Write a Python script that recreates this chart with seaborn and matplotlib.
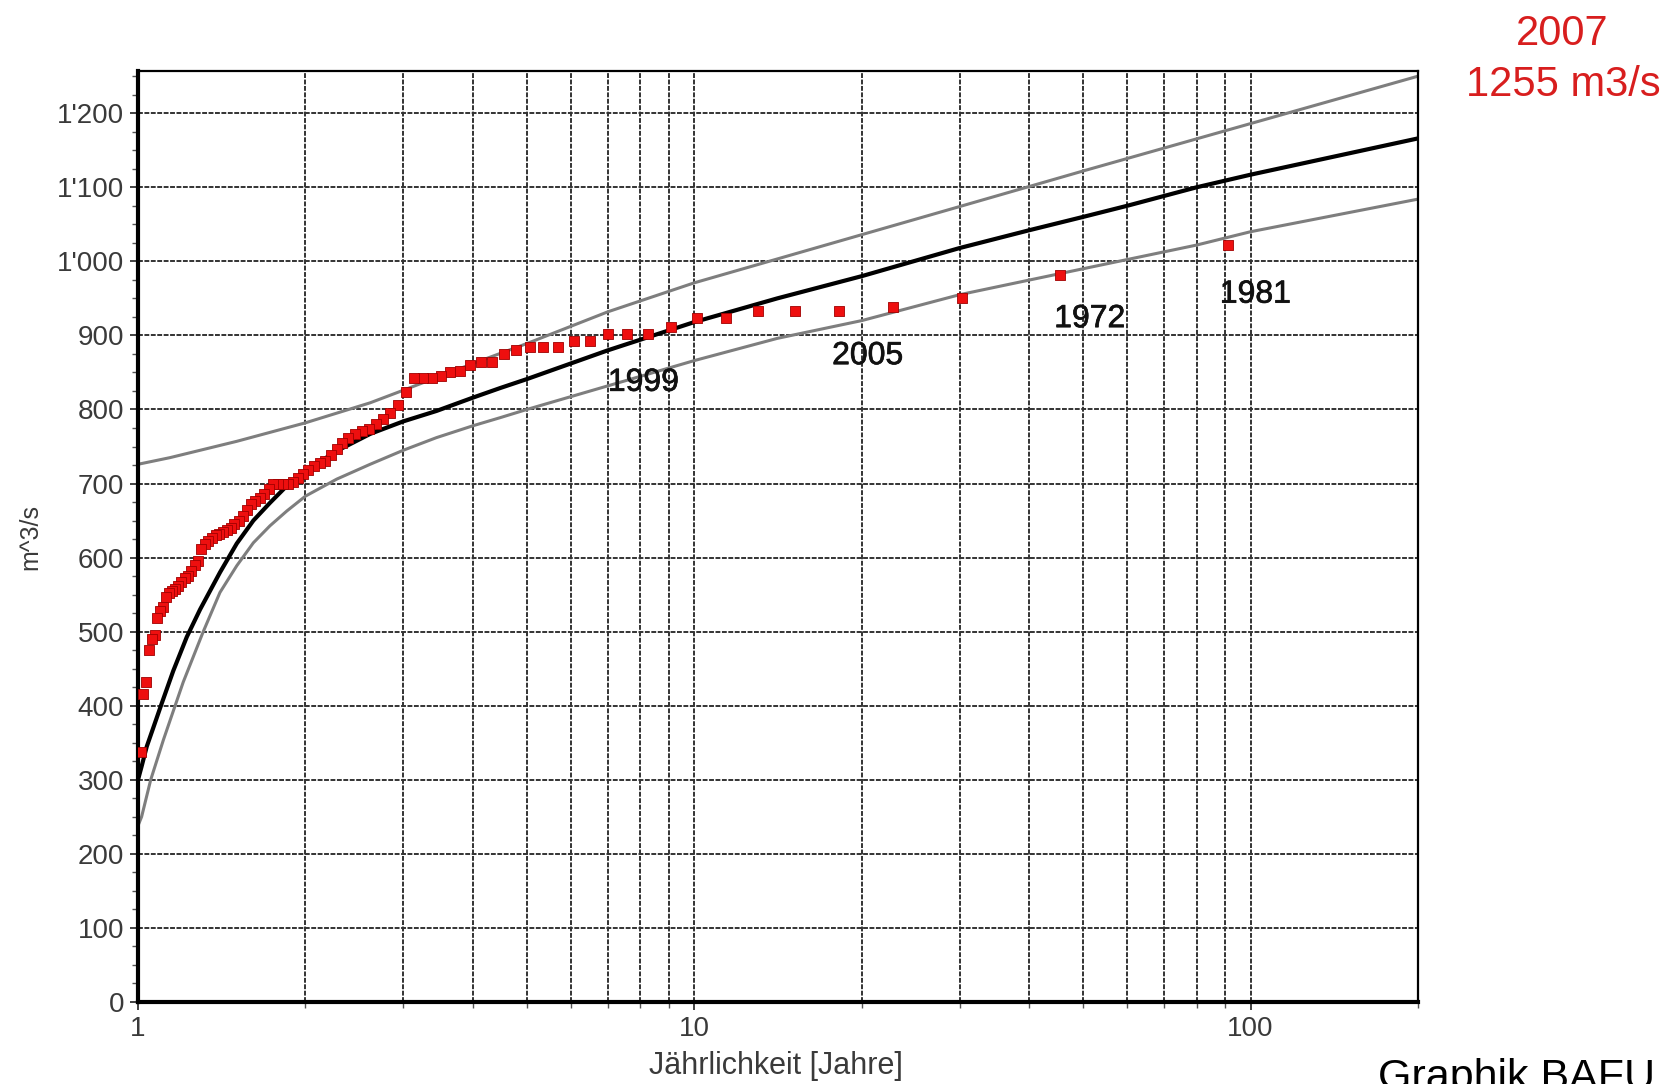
import matplotlib
matplotlib.use("Agg")
import matplotlib.pyplot as plt
import matplotlib.patheffects as pe
from matplotlib.ticker import FuncFormatter, LogLocator, NullFormatter, MultipleLocator
import seaborn as sns
import pandas as pd

# ---------------- data ----------------
# observed annual peaks: return period (years) and discharge (m^3/s)
obs_T = [91.0, 45.5, 30.33, 22.75, 18.2, 15.17, 13.0, 11.38, 10.11, 9.1,
         8.27, 7.58, 7.0, 6.5, 6.07, 5.69, 5.35, 5.06, 4.79, 4.55,
         4.33, 4.14, 3.96, 3.79, 3.64, 3.5, 3.37, 3.25, 3.14, 3.03,
         2.935, 2.84, 2.76, 2.68, 2.6, 2.53, 2.46, 2.39, 2.33, 2.275,
         2.22, 2.17, 2.12, 2.07, 2.02, 1.98, 1.94, 1.9, 1.857, 1.82,
         1.785, 1.75, 1.717, 1.685, 1.655, 1.625, 1.596, 1.569, 1.542, 1.517,
         1.49, 1.468, 1.444, 1.422, 1.4, 1.379, 1.358, 1.338, 1.319, 1.3,
         1.282, 1.264, 1.247, 1.23, 1.213, 1.197, 1.182, 1.167, 1.152, 1.138,
         1.123, 1.11, 1.096, 1.083, 1.071, 1.058, 1.046, 1.034, 1.022, 1.011]
obs_Q = [1022, 981, 950, 939, 933, 933, 933, 923, 923, 911,
         902, 902, 902, 893, 893, 884, 884, 884, 880, 875,
         864, 864, 860, 852, 850, 845, 843, 843, 843, 823,
         806, 795, 787, 780, 774, 771, 767, 761, 755, 747,
         738, 731, 728, 724, 718, 713, 708, 702, 699, 699,
         699, 699, 693, 686, 681, 677, 672, 664, 656, 650,
         645, 640, 637, 634, 632, 630, 627, 622, 618, 612,
         596, 590, 582, 575, 572, 567, 562, 558, 555, 552,
         547, 533, 528, 518, 495, 490, 475, 432, 416, 337]

# fitted distribution (black)
fit_T = [1.0, 1.015, 1.037, 1.065, 1.103, 1.157, 1.224, 1.293, 1.404, 1.505,
         1.612, 1.727, 1.852, 2.0, 2.277, 2.614, 3.0, 3.44, 4.0, 4.48,
         5.0, 7.0, 10.0, 14.1, 20.0, 30.0, 40.0, 50.0, 60.0, 80.0,
         100.0, 200.0]
fit_Q = [300, 318, 345, 370, 403, 447, 493, 530, 580, 619,
         650, 674, 697, 717, 744, 767, 784, 798, 816, 829,
         841, 880, 918, 950, 980, 1018, 1042, 1060, 1075, 1100,
         1117, 1166]

# lower confidence bound (grey)
low_T = [1.0, 1.015, 1.054, 1.111, 1.166, 1.206, 1.31, 1.404, 1.505, 1.612,
         1.727, 1.852, 2.0, 2.277, 2.614, 3.0, 3.44, 4.0, 4.48, 5.0,
         7.0, 10.0, 14.1, 20.0, 30.0, 50.0, 80.0, 100.0, 200.0]
low_Q = [238, 250, 300, 354, 400, 432, 500, 553, 589, 620,
         643, 663, 683, 706, 726, 745, 762, 778, 789, 800,
         832, 866, 896, 920, 955, 990, 1022, 1040, 1084]

# upper confidence bound (grey)
up_T = [1.0, 1.142, 1.505, 2.0, 2.614, 3.0, 4.0, 5.0, 7.0, 10.0,
        20.0, 30.0, 50.0, 100.0, 200.0]
up_Q = [726, 735, 757, 782, 809, 826, 862, 889, 932, 971,
        1036, 1074, 1122, 1186, 1250]

year_labels = ["1999", "2005", "1972", "1981"]
year_label_T = [8.1, 20.5, 51.4, 102.0]
year_label_Q = [836, 872, 922, 955]

x_major = [1, 10, 100]
y_major = list(range(0, 1201, 100))

# ---------------- plot ----------------
sns.set_theme(style="white")
plt.rcParams["font.family"] = ["Liberation Sans", "DejaVu Sans"]

fig = plt.figure(figsize=(16.66, 10.84), dpi=100)
ax = fig.add_axes([138 / 1666, 1 - 1002 / 1084, (1418 - 138) / 1666, (1002 - 71) / 1084])

ax.set_xscale("log")
ax.set_xlim(1, 200)
ax.set_ylim(0, 1257)

# grid
ax.xaxis.set_minor_locator(LogLocator(base=10, subs=range(2, 10)))
ax.xaxis.set_minor_formatter(NullFormatter())
ax.set_xticks(x_major)
ax.set_xticklabels([str(v) for v in x_major])
ax.set_yticks(y_major)
ax.yaxis.set_minor_locator(MultipleLocator(25))
ax.yaxis.set_major_formatter(FuncFormatter(lambda v, p: f"{int(v):,}".replace(",", "'")))
grid_kw = dict(color="#333333", linewidth=1.4, linestyle=(0, (2.5, 0.8)))
ax.grid(True, which="major", axis="both", **grid_kw)
ax.grid(True, which="minor", axis="x", **grid_kw)
ax.set_axisbelow(True)

df_up = pd.DataFrame({"T": up_T, "Q": up_Q})
df_low = pd.DataFrame({"T": low_T, "Q": low_Q})
df_fit = pd.DataFrame({"T": fit_T, "Q": fit_Q})
df_obs = pd.DataFrame({"T": obs_T, "Q": obs_Q})

sns.lineplot(data=df_up, x="T", y="Q", ax=ax, color="#7e7e7e", linewidth=2.2,
             estimator=None, sort=False)
sns.lineplot(data=df_low, x="T", y="Q", ax=ax, color="#7e7e7e", linewidth=2.2,
             estimator=None, sort=False)
sns.lineplot(data=df_fit, x="T", y="Q", ax=ax, color="black", linewidth=3.0,
             estimator=None, sort=False)
sns.scatterplot(data=df_obs, x="T", y="Q", ax=ax, marker="s", s=52,
                color="#ee0f0f", edgecolor="#a00000", linewidth=0.6, zorder=5)

for lab, tx, qy in zip(year_labels, year_label_T, year_label_Q):
    ax.text(tx, qy, lab, ha="center", va="center", fontsize=23, color="#111111", zorder=6,
            path_effects=[pe.withStroke(linewidth=0.5, foreground="#111111")])

# axes styling
for side in ["left", "bottom"]:
    ax.spines[side].set_linewidth(3.0)
for side in ["top", "right"]:
    ax.spines[side].set_linewidth(1.6)
for s in ax.spines.values():
    s.set_color("black")

ax.tick_params(axis="both", which="major", direction="out", length=6, width=1.3,
               color="#333333", labelsize=20, labelcolor="#3a3a3a", pad=4,
               bottom=True, left=True)
ax.tick_params(axis="both", which="minor", direction="out", length=4, width=1.0,
               color="#555555", bottom=True, left=True)

ax.set_xlabel("")
ax.set_ylabel("")
fig.text(776 / 1666, 1 - 1066 / 1084, "Jährlichkeit [Jahre]", ha="center", va="center",
         fontsize=22, color="#3a3a3a")
fig.text(30 / 1666, 1 - 537 / 1084, "m^3/s", ha="center", va="center", rotation=90,
         fontsize=18, color="#3a3a3a")

# red annotation top right
fig.text(1562 / 1666, 1 - 45 / 1084, "2007", ha="center", va="baseline",
         fontsize=30, color="#d81e1e")
fig.text(1563 / 1666, 1 - 96 / 1084, "1255 m3/s", ha="center", va="baseline",
         fontsize=30, color="#d81e1e")

# source note bottom right (cut off at the figure edge, as in the original)
fig.text(1378 / 1666, 1 - 1089 / 1084, "Graphik BAFU (", ha="left", va="baseline",
         fontsize=31, color="black")

fig.savefig("out.png", dpi=100)
